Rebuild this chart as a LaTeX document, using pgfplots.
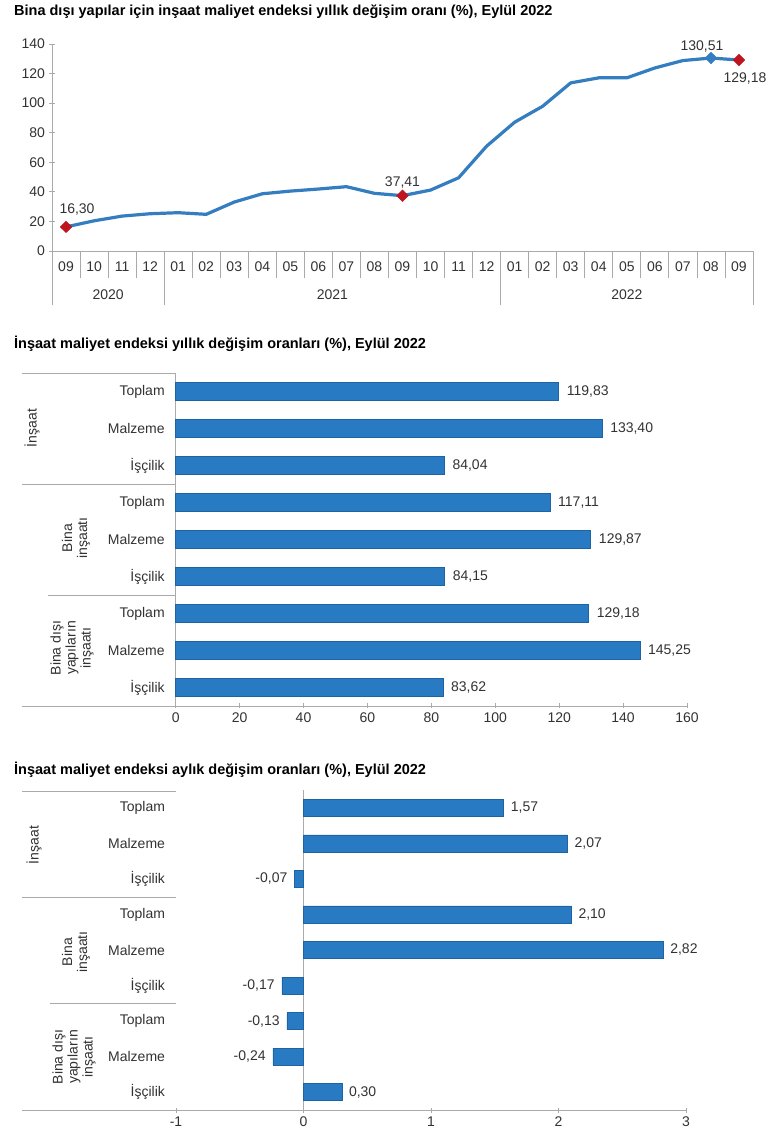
\documentclass[border=0pt]{standalone}
\usepackage{fontspec}
\setmainfont{Liberation Sans}
\usepackage{pgfplots}
\pgfplotsset{compat=1.18}

\definecolor{barblue}{RGB}{40,122,194}
\definecolor{baredge}{RGB}{30,100,165}
\definecolor{lineblue}{RGB}{52,125,192}
\definecolor{dred}{RGB}{190,22,32}
\definecolor{txt}{RGB}{50,50,50}
\definecolor{axgray}{RGB}{170,170,170}

\newcommand{\lbl}{\fontsize{14}{15}\selectfont}
\newcommand{\ttl}{\fontsize{14.5}{16}\selectfont\bfseries}

\pgfplotsset{
  base/.style={
    scale only axis, clip=false,
    /pgf/number format/assume math mode=true,
    tick label style={font=\lbl, text=txt},
    major tick style={axgray, line width=0.8pt},
    tick align=outside, major tick length=5pt,
  },
  plainlines/.style={
    axis line style={axgray, line width=0.8pt, -},
    every inner x axis line/.append style={-},
    every inner y axis line/.append style={-},
    every outer x axis line/.append style={-},
    every outer y axis line/.append style={-},
  },
  valfmt/.style={
    nodes near coords={\pgfmathprintnumber[assume math mode=true,use comma,fixed,fixed zerofill,precision=2,1000 sep={}]{\pgfplotspointmeta}},
    nodes near coords style={font=\lbl, text=txt},
  },
  dmark/.style={only marks, mark=diamond*, mark size=5.8pt, mark options={xscale=1.35}},
}

\begin{document}
\begin{tikzpicture}
\path[use as bounding box] (0pt,0pt) rectangle (770pt,1133pt);

% ---------- annual change, non-building structures ----------
\node[anchor=base west, font=\ttl, inner sep=0pt] at (14pt,1117pt)
  {Bina dışı yapılar için inşaat maliyet endeksi yıllık değişim oranı (\%), Eylül 2022};

\begin{axis}[base, at={(52pt,882pt)}, anchor=south west,
  width=701pt, height=207pt,
  xmin=-0.5, xmax=24.5, ymin=0, ymax=140,
  axis x line=bottom, axis y line=left, plainlines,
  ytick={0,20,...,140},
  xtick={0,...,24},
  xticklabels={09,10,11,12,01,02,03,04,05,06,07,08,09,10,11,12,01,02,03,04,05,06,07,08,09},
  x tick style={draw=none},
  xticklabel style={yshift=-5pt},
  yticklabel style={xshift=-1pt},
]
\addplot[lineblue, line width=3.2pt, mark=none] coordinates {
  (0,16.30) (1,20.4) (2,23.6) (3,25.2) (4,25.9) (5,24.8) (6,33.1) (7,38.7)
  (8,40.5) (9,41.9) (10,43.5) (11,39.0) (12,37.41) (13,41.2) (14,49.5)
  (15,70.9) (16,87.1) (17,97.9) (18,113.7) (19,117.1) (20,117.1) (21,123.8)
  (22,128.8) (23,130.51) (24,129.18)};
\addplot[dmark, dred, valfmt,
  nodes near coords style={anchor=south, yshift=8pt, xshift=11pt}, point meta=explicit]
  coordinates {(0,16.30) [16.30]};
\addplot[dmark, dred, valfmt,
  nodes near coords style={anchor=south, yshift=4pt}, point meta=explicit]
  coordinates {(12,37.41) [37.41]};
\addplot[dmark, lineblue, valfmt,
  nodes near coords style={anchor=south, yshift=2pt, xshift=-9pt}, point meta=explicit]
  coordinates {(23,130.51) [130.51]};
\addplot[dmark, dred, valfmt,
  nodes near coords style={anchor=north, yshift=-9pt, xshift=6pt}, point meta=explicit]
  coordinates {(24,129.18) [129.18]};
% month and year separators
\pgfplotsinvokeforeach{0.5,1.5,2.5,4.5,5.5,6.5,7.5,8.5,9.5,10.5,11.5,12.5,13.5,14.5,16.5,17.5,18.5,19.5,20.5,21.5,22.5,23.5}{
  \draw[axgray, line width=0.8pt] (axis cs:#1,0) -- ++(0pt,-27pt);}
\pgfplotsinvokeforeach{-0.5,3.5,15.5,24.5}{
  \draw[axgray, line width=0.8pt] (axis cs:#1,0) -- ++(0pt,-54pt);}
\node[font=\lbl, text=txt] at (axis cs:1.5,0) [yshift=-44pt] {2020};
\node[font=\lbl, text=txt] at (axis cs:9.5,0) [yshift=-44pt] {2021};
\node[font=\lbl, text=txt] at (axis cs:20,0) [yshift=-44pt] {2022};
\end{axis}

% ---------- annual change by group ----------
\node[anchor=base west, font=\ttl, inner sep=0pt] at (14pt,784pt)
  {İnşaat maliyet endeksi yıllık değişim oranları (\%), Eylül 2022};

\begin{axis}[base, at={(175.7pt,427pt)}, anchor=south west,
  width=511.3pt, height=333pt,
  xbar, bar width=18pt,
  xmin=0, xmax=160, ymin=-0.5, ymax=8.5,
  axis x line=bottom, axis y line=left, plainlines,
  xtick={0,20,...,160},
  ytick={0,...,8},
  yticklabels={İşçilik,Malzeme,Toplam,İşçilik,Malzeme,Toplam,İşçilik,Malzeme,Toplam},
  y tick style={draw=none},
  yticklabel style={xshift=-5pt},
  xticklabel style={yshift=-1pt},
]
\addplot[fill=barblue, draw=baredge, line width=0.5pt, valfmt,
  nodes near coords align=horizontal,
  nodes near coords style={inner xsep=8pt}, point meta=explicit]
  coordinates {
  (83.62,0) [83.62] (145.25,1) [145.25] (129.18,2) [129.18]
  (84.15,3) [84.15] (129.87,4) [129.87] (117.11,5) [117.11]
  (84.04,6) [84.04] (133.40,7) [133.40] (119.83,8) [119.83]};
\end{axis}
\draw[axgray, line width=0.8pt] (22pt,427pt) -- (687pt,427pt);
\draw[axgray, line width=0.8pt] (22pt,760pt) -- (175.7pt,760pt);
\draw[axgray, line width=0.8pt] (22pt,649pt) -- (175.7pt,649pt);
\draw[axgray, line width=0.8pt] (48pt,538pt) -- (175.7pt,538pt);
\node[rotate=90, font=\lbl, text=txt, align=center] at (32pt,705pt) {İnşaat};
\node[rotate=90, font=\lbl, text=txt, align=center] at (76pt,595pt) {Bina\\inşaatı};
\node[rotate=90, font=\lbl, text=txt, align=center] at (72pt,485pt) {Bina dışı\\yapıların\\inşaatı};

% ---------- monthly change by group ----------
\node[anchor=base west, font=\ttl, inner sep=0pt] at (14pt,358pt)
  {İnşaat maliyet endeksi aylık değişim oranları (\%), Eylül 2022};

\begin{axis}[base, at={(176pt,23pt)}, anchor=south west,
  width=510pt, height=320pt,
  xbar, bar width=17pt,
  xmin=-1, xmax=3, ymin=-0.5, ymax=8.5,
  axis x line=bottom, axis y line=left, plainlines,
  y axis line style={draw=none},
  xtick={-1,0,1,2,3},
  ytick={0,...,8},
  yticklabels={İşçilik,Malzeme,Toplam,İşçilik,Malzeme,Toplam,İşçilik,Malzeme,Toplam},
  y tick style={draw=none},
  yticklabel style={xshift=-5pt},
  xticklabel style={yshift=-1pt},
]
\draw[axgray, line width=0.8pt] (axis cs:0,-0.5) -- (axis cs:0,8.5);
\addplot[fill=barblue, draw=baredge, line width=0.5pt, valfmt,
  nodes near coords align=horizontal,
  nodes near coords style={inner xsep=7pt}, point meta=explicit]
  coordinates {
  (0.30,0) [0.30] (-0.24,1) [-0.24] (-0.13,2) [-0.13]
  (-0.17,3) [-0.17] (2.82,4) [2.82] (2.10,5) [2.10]
  (-0.07,6) [-0.07] (2.07,7) [2.07] (1.57,8) [1.57]};
\end{axis}
\draw[axgray, line width=0.8pt] (22pt,23pt) -- (686pt,23pt);
\draw[axgray, line width=0.8pt] (22pt,342pt) -- (176pt,342pt);
\draw[axgray, line width=0.8pt] (22pt,236pt) -- (176pt,236pt);
\draw[axgray, line width=0.8pt] (50pt,130pt) -- (176pt,130pt);
\node[rotate=90, font=\lbl, text=txt, align=center] at (34pt,288pt) {İnşaat};
\node[rotate=90, font=\lbl, text=txt, align=center] at (76pt,181pt) {Bina\\inşaatı};
\node[rotate=90, font=\lbl, text=txt, align=center] at (74pt,76pt) {Bina dışı\\yapıların\\inşaatı};
\end{tikzpicture}
\end{document}
